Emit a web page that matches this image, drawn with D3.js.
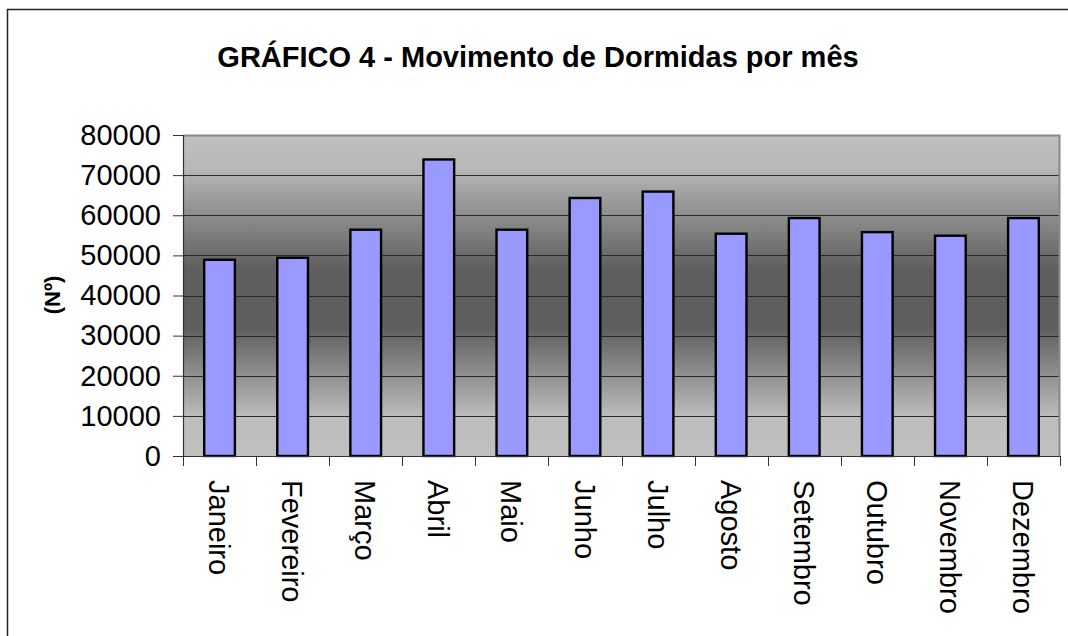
<!DOCTYPE html>
<html>
<head>
<meta charset="utf-8">
<script src="https://cdn.jsdelivr.net/npm/d3@7"></script>
<style>
  body { margin: 0; background: #fff; }
  svg { display: block; font-family: "Liberation Sans", Arial, sans-serif; }
</style>
</head>
<body>
<div id="chart"></div>
<script>
const months = ["Janeiro", "Fevereiro", "Março", "Abril", "Maio", "Junho",
                "Julho", "Agosto", "Setembro", "Outubro", "Novembro", "Dezembro"];
const dormidas = [48900, 49400, 56400, 73900, 56400, 64300,
                  65900, 55400, 59300, 55800, 54900, 59300];
const yTicks = [0, 10000, 20000, 30000, 40000, 50000, 60000, 70000, 80000];
const title = "GRÁFICO 4 - Movimento de Dormidas por mês";
const yTitle = "(Nº)";

const width = 1068, height = 636;
const plot = {left: 183, top: 135, right: 1060, bottom: 456};

const svg = d3.select("#chart").append("svg")
    .attr("width", width)
    .attr("height", height);

// outer frame (runs off the right and bottom edges)
svg.append("rect")
    .attr("x", 7.5).attr("y", 9.5)
    .attr("width", 1100).attr("height", 700)
    .attr("fill", "none")
    .attr("stroke", "#222")
    .attr("stroke-width", 1.5);

svg.append("text")
    .attr("x", 538).attr("y", 67)
    .attr("text-anchor", "middle")
    .attr("font-size", 29)
    .attr("font-weight", "bold")
    .text(title);

// plot background gradient
const grad = svg.append("defs").append("linearGradient")
    .attr("id", "bg").attr("x1", 0).attr("y1", 0).attr("x2", 0).attr("y2", 1);
[[0, "#c0c0c0"], [0.1, "#b8b8b8"], [0.42, "#5e5e5e"], [0.6, "#5e5e5e"],
 [0.88, "#bdbdbd"], [1, "#c0c0c0"]].forEach(s => {
    grad.append("stop").attr("offset", s[0]).attr("stop-color", s[1]);
});

const x = d3.scaleBand()
    .domain(months)
    .range([plot.left, plot.right])
    .paddingInner(0.58)
    .paddingOuter(0.29);

const xEdges = d3.scaleLinear()
    .domain([0, months.length])
    .range([plot.left, plot.right]);

const y = d3.scaleLinear()
    .domain([0, 80000])
    .range([plot.bottom, plot.top]);

svg.append("rect")
    .attr("x", plot.left).attr("y", plot.top)
    .attr("width", plot.right - plot.left)
    .attr("height", plot.bottom - plot.top)
    .attr("fill", "url(#bg)");

// gridlines
svg.append("g")
    .selectAll("line")
    .data(yTicks.slice(1, -1))
    .join("line")
    .attr("x1", plot.left).attr("x2", plot.right)
    .attr("y1", d => Math.round(y(d)) + 0.5)
    .attr("y2", d => Math.round(y(d)) + 0.5)
    .attr("stroke", "#2a2a2a")
    .attr("stroke-width", 1);

// plot border top and right
svg.append("path")
    .attr("d", `M${plot.left},${plot.top + 0.5}H${plot.right - 0.5}V${plot.bottom}`)
    .attr("fill", "none")
    .attr("stroke", "#888")
    .attr("stroke-width", 2);

// bars
svg.append("g")
    .selectAll("rect")
    .data(months)
    .join("rect")
    .attr("x", d => x(d))
    .attr("y", (d, i) => y(dormidas[i]))
    .attr("width", x.bandwidth())
    .attr("height", (d, i) => y(0) - y(dormidas[i]))
    .attr("fill", "#9999ff")
    .attr("stroke", "#000")
    .attr("stroke-width", 2.4);

// y axis
const yAxis = svg.append("g")
    .attr("transform", `translate(${plot.left},0)`)
    .call(d3.axisLeft(y).tickValues(yTicks).tickSize(10).tickPadding(12).tickFormat(d3.format("d")));
yAxis.select(".domain").attr("stroke", "#333").attr("stroke-width", 1.2);
yAxis.selectAll(".tick line").attr("stroke", "#333");
yAxis.selectAll(".tick text")
    .attr("font-size", 29)
    .attr("font-family", "Liberation Sans, Arial, sans-serif")
    .attr("fill", "#000");

// x axis line and ticks at category edges
svg.append("line")
    .attr("x1", plot.left).attr("x2", plot.right)
    .attr("y1", plot.bottom + 0.5).attr("y2", plot.bottom + 0.5)
    .attr("stroke", "#333").attr("stroke-width", 1.2);
svg.append("g")
    .selectAll("line")
    .data(d3.range(months.length + 1))
    .join("line")
    .attr("x1", d => Math.round(xEdges(d)) + 0.5)
    .attr("x2", d => Math.round(xEdges(d)) + 0.5)
    .attr("y1", plot.bottom).attr("y2", plot.bottom + 10)
    .attr("stroke", "#333");

// month labels, rotated
svg.append("g")
    .selectAll("text")
    .data(months)
    .join("text")
    .attr("transform", d => `translate(${x(d) + x.bandwidth() / 2},480) rotate(90)`)
    .attr("dy", "0.36em")
    .attr("font-size", 29)
    .text(d => d);

svg.append("text")
    .attr("transform", "translate(52,295) rotate(-90)")
    .attr("text-anchor", "middle")
    .attr("dy", "0.35em")
    .attr("font-size", 22)
    .attr("font-weight", "bold")
    .text(yTitle);
</script>
</body>
</html>
